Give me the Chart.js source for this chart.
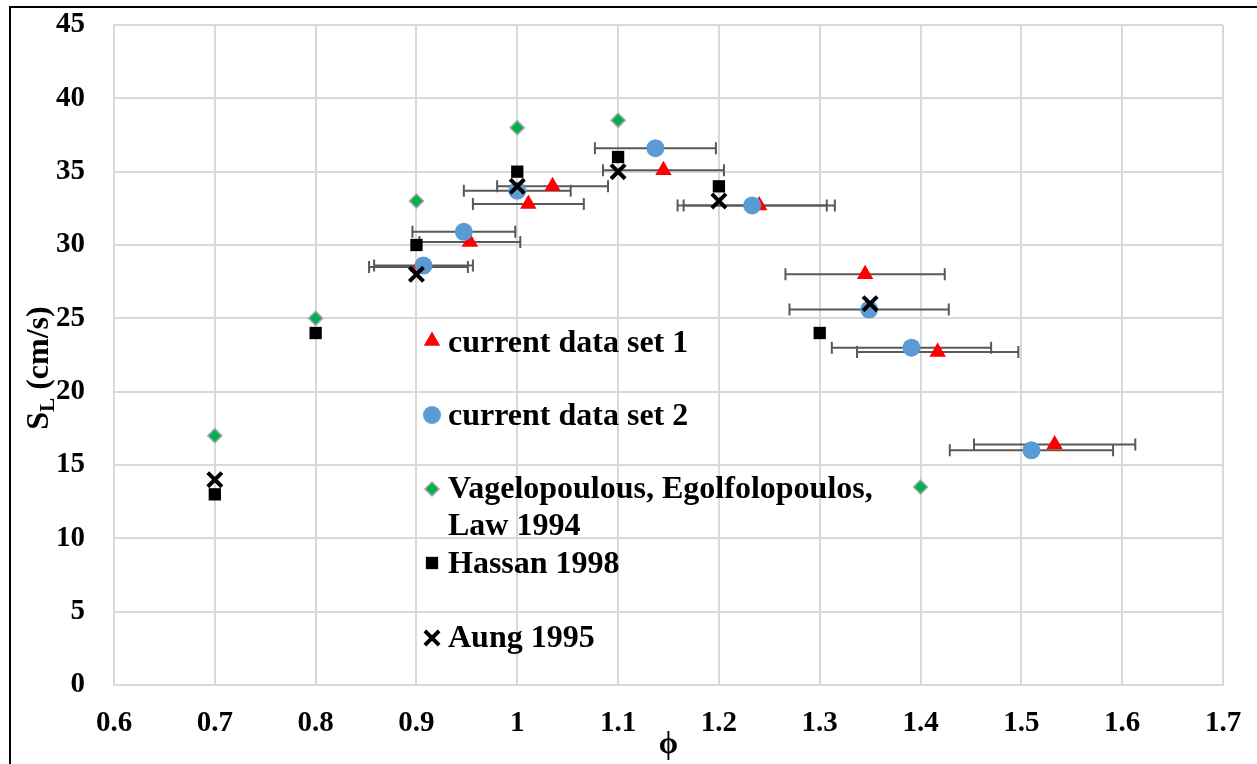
<!DOCTYPE html>
<html>
<head>
<meta charset="utf-8">
<script src="https://cdn.jsdelivr.net/npm/chart.js@4.4.1/dist/chart.umd.min.js"></script>
<style>
html, body { margin: 0; padding: 0; background: #fff; }
#wrap { position: relative; width: 1257px; height: 764px; overflow: hidden; }
#frame { position: absolute; left: 9px; top: 6px; width: 1300px; height: 800px;
         border-left: 2px solid #000; border-top: 2px solid #000; pointer-events: none; }
</style>
</head>
<body>
<div id="wrap">
  <canvas id="chart" width="1257" height="764"></canvas>
  <div id="frame"></div>
</div>
<script>
// tick values and labels
const phiTicks = [0.6, 0.7, 0.8, 0.9, 1.0, 1.1, 1.2, 1.3, 1.4, 1.5, 1.6, 1.7];
const phiTickLabels = ['0.6', '0.7', '0.8', '0.9', '1', '1.1', '1.2', '1.3', '1.4', '1.5', '1.6', '1.7'];
const slTicks = [0, 5, 10, 15, 20, 25, 30, 35, 40, 45];
const slTickLabels = ['0', '5', '10', '15', '20', '25', '30', '35', '40', '45'];

// current data set 1 (with x error)
const set1Phi = [0.902, 0.953, 1.011, 1.035, 1.145, 1.240, 1.345, 1.417, 1.533];
const set1SL  = [28.5, 30.2, 32.8, 34.0, 35.1, 32.7, 28.0, 22.7, 16.4];
const set1Err = [0.049, 0.050, 0.055, 0.055, 0.060, 0.075, 0.079, 0.080, 0.080];

// current data set 2 (with x error)
const set2Phi = [0.907, 0.947, 1.000, 1.137, 1.233, 1.349, 1.391, 1.510];
const set2SL  = [28.6, 30.9, 33.7, 36.6, 32.7, 25.6, 23.0, 16.0];
const set2Err = [0.049, 0.051, 0.053, 0.060, 0.074, 0.079, 0.079, 0.081];

// literature
const vagPhi = [0.7, 0.8, 0.9, 1.0, 1.1, 1.4];
const vagSL  = [17, 25, 33, 38, 38.5, 13.5];
const hassanPhi = [0.7, 0.8, 0.9, 1.0, 1.1, 1.2, 1.3];
const hassanSL  = [13, 24, 30, 35, 36, 34, 24];
const aungPhi = [0.7, 0.9, 1.0, 1.1, 1.2, 1.35];
const aungSL  = [14, 28, 34, 35, 33, 26];

const serif = "'Liberation Serif', 'Times New Roman', serif";

function toPoints(xs, ys) {
    return xs.map((x, i) => ({ x: x, y: ys[i] }));
}

const datasets = [
    {
        label: 'current data set 1',
        data: toPoints(set1Phi, set1SL),
        xErr: set1Err,
        pointStyle: 'triangle',
        pointRadius: 9.5,
        backgroundColor: '#ff0000',
        borderColor: '#ff0000',
        borderWidth: 0,
        order: 4
    },
    {
        label: 'current data set 2',
        data: toPoints(set2Phi, set2SL),
        xErr: set2Err,
        pointStyle: 'circle',
        pointRadius: 9,
        backgroundColor: '#5b9bd5',
        borderColor: '#5b9bd5',
        borderWidth: 0,
        order: 3
    },
    {
        label: ['Vagelopoulous, Egolfolopoulos,', 'Law 1994'],
        data: toPoints(vagPhi, vagSL),
        pointStyle: 'rectRot',
        pointRadius: 7,
        backgroundColor: '#00b050',
        borderColor: '#a6a6a6',
        borderWidth: 1.5,
        order: 2
    },
    {
        label: 'Hassan 1998',
        data: toPoints(hassanPhi, hassanSL),
        pointStyle: 'rect',
        pointRadius: 8.7,
        backgroundColor: '#000000',
        borderColor: '#000000',
        borderWidth: 0,
        order: 1
    },
    {
        label: 'Aung 1995',
        data: toPoints(aungPhi, aungSL),
        pointStyle: 'crossRot',
        pointRadius: 10,
        backgroundColor: '#000000',
        borderColor: '#000000',
        borderWidth: 4,
        order: 0
    }
];

// horizontal error bars, under the markers
const errorBars = {
    id: 'errorBars',
    beforeDatasetsDraw(chart) {
        const ctx = chart.ctx;
        const xs = chart.scales.x, ys = chart.scales.y;
        ctx.save();
        ctx.strokeStyle = '#595959';
        ctx.lineWidth = 2;
        chart.data.datasets.forEach(ds => {
            if (!ds.xErr) return;
            ds.data.forEach((p, i) => {
                const e = ds.xErr[i];
                const x0 = xs.getPixelForValue(p.x - e);
                const x1 = xs.getPixelForValue(p.x + e);
                const y = ys.getPixelForValue(p.y);
                ctx.beginPath();
                ctx.moveTo(x0, y); ctx.lineTo(x1, y);
                ctx.moveTo(x0, y - 6); ctx.lineTo(x0, y + 6);
                ctx.moveTo(x1, y - 6); ctx.lineTo(x1, y + 6);
                ctx.stroke();
            });
        });
        ctx.restore();
    }
};

// legend inside the plot + axis titles
const legendRows = [
    { y: 341, base: 352 },
    { y: 415, base: 425 },
    { y: 489, base: 498 },
    { y: 563, base: 573 },
    { y: 638, base: 647 }
];

const overlay = {
    id: 'overlay',
    afterDraw(chart) {
        const ctx = chart.ctx;
        ctx.save();
        chart.data.datasets.forEach((ds, i) => {
            const row = legendRows[i];
            ctx.fillStyle = ds.backgroundColor;
            ctx.strokeStyle = ds.borderColor;
            ctx.lineWidth = ds.borderWidth;
            Chart.helpers.drawPoint(ctx, {
                pointStyle: ds.pointStyle,
                radius: ds.pointRadius,
                rotation: 0,
                borderWidth: ds.borderWidth
            }, 432, row.y);
            ctx.fillStyle = '#000';
            ctx.font = 'bold 32px ' + serif;
            ctx.textAlign = 'left';
            ctx.textBaseline = 'alphabetic';
            const lines = Array.isArray(ds.label) ? ds.label : [ds.label];
            lines.forEach((t, k) => ctx.fillText(t, 448, row.base + k * 37));
        });
        ctx.restore();

        // y title with subscript
        ctx.save();
        ctx.translate(0, 368);
        ctx.rotate(-Math.PI / 2);
        ctx.fillStyle = '#000';
        ctx.textAlign = 'left';
        ctx.textBaseline = 'alphabetic';
        const big = 'bold 32px ' + serif, small = 'bold 21px ' + serif;
        ctx.font = big; const wS = ctx.measureText('S').width;
        const wRest = ctx.measureText(' (cm/s)').width;
        ctx.font = small; const wL = ctx.measureText('L').width;
        let x = -(wS + wL + wRest) / 2;
        ctx.font = big; ctx.fillText('S', x, 48); x += wS;
        ctx.font = small; ctx.fillText('L', x, 54); x += wL;
        ctx.font = big; ctx.fillText(' (cm/s)', x, 48);
        ctx.restore();

        ctx.save();
        ctx.fillStyle = '#000';
        ctx.font = 'bold 31px ' + serif;
        ctx.textAlign = 'center';
        ctx.textBaseline = 'middle';
        ctx.fillText('ϕ', (chart.chartArea.left + chart.chartArea.right) / 2, 745);
        ctx.restore();
    }
};

new Chart(document.getElementById('chart'), {
    type: 'scatter',
    data: { datasets: datasets },
    options: {
        responsive: false,
        animation: false,
        layout: { padding: { top: 25, right: 34, left: 0, bottom: 0 } },
        plugins: { legend: { display: false }, tooltip: { enabled: false } },
        scales: {
            x: {
                type: 'linear',
                min: 0.6,
                max: 1.7,
                afterBuildTicks: s => { s.ticks = phiTicks.map(v => ({ value: v })); },
                afterFit: s => { s.height = 79; s.paddingLeft = 0; s.paddingRight = 0; },
                grid: { color: '#d9d9d9', lineWidth: 2, drawTicks: false },
                border: { color: '#d9d9d9', width: 2 },
                ticks: {
                    autoSkip: false,
                    maxRotation: 0,
                    padding: 21,
                    color: '#000',
                    font: { family: serif, size: 29, weight: 'bold' },
                    callback: (v, i) => phiTickLabels[i]
                }
            },
            y: {
                min: 0,
                max: 45,
                afterBuildTicks: s => { s.ticks = slTicks.map(v => ({ value: v })); },
                afterFit: s => { s.width = 114; s.paddingTop = 0; s.paddingBottom = 0; },
                grid: { color: '#d9d9d9', lineWidth: 2, drawTicks: false },
                border: { color: '#d9d9d9', width: 2 },
                ticks: {
                    padding: 29,
                    color: '#000',
                    font: { family: serif, size: 29, weight: 'bold' },
                    callback: (v, i) => slTickLabels[i]
                }
            }
        }
    },
    plugins: [errorBars, overlay]
});
</script>
</body>
</html>
